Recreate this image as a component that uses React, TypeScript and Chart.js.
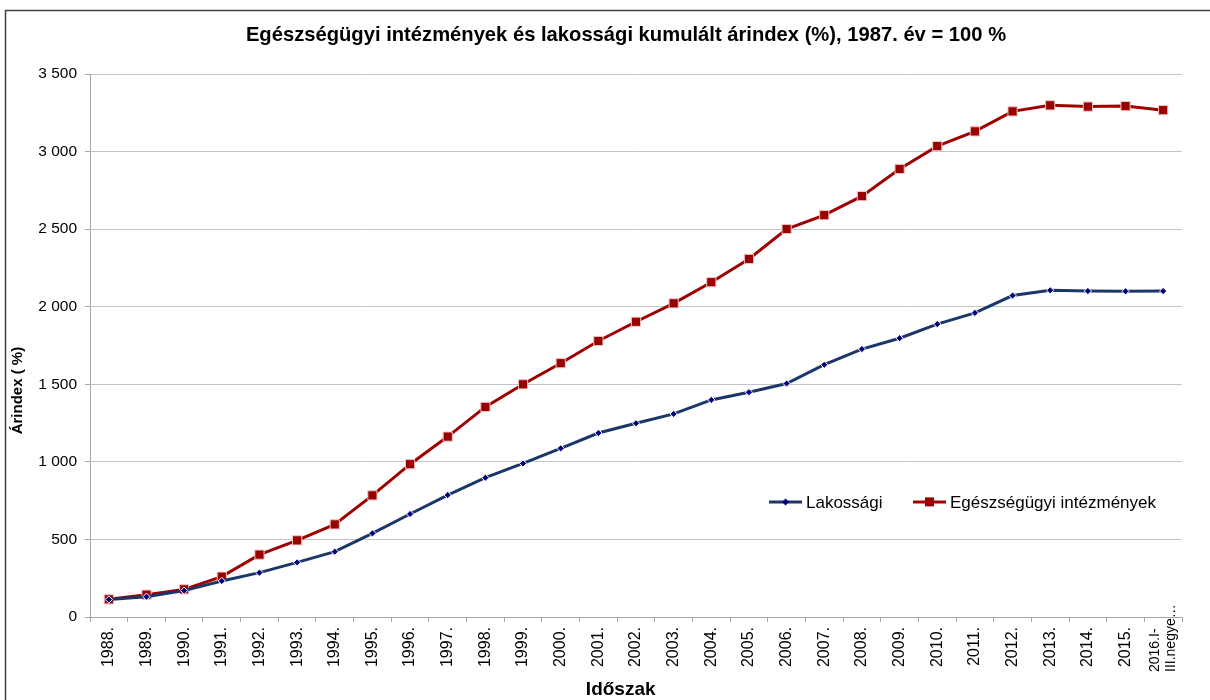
import React, { useEffect, useRef } from "react";
import { Chart, registerables } from "chart.js";

Chart.register(...registerables);

const chartTitle = "Egészségügyi intézmények és lakossági kumulált árindex (%), 1987. év = 100 %";
const xTitle = "Időszak";
const yTitle = "Árindex ( %)";

const categories: (string | string[])[] = [
  "1988.", "1989.", "1990.", "1991.", "1992.", "1993.", "1994.", "1995.", "1996.", "1997.",
  "1998.", "1999.", "2000.", "2001.", "2002.", "2003.", "2004.", "2005.", "2006.", "2007.",
  "2008.", "2009.", "2010.", "2011.", "2012.", "2013.", "2014.", "2015.", ["2016.I-", "III.negye…"],
];

const lakossagiName = "Lakossági";
const lakossagi = [
  113, 131, 170, 232, 286, 352, 421, 539, 664, 786,
  898, 990, 1087, 1186, 1249, 1309, 1399, 1449, 1505, 1626,
  1727, 1797, 1888, 1960, 2072, 2106, 2101, 2099, 2101,
];

const egeszsegName = "Egészségügyi intézmények";
const egeszseg = [
  114, 144, 178, 260, 402, 494, 597, 784, 985, 1163,
  1354, 1500, 1636, 1779, 1903, 2022, 2158, 2308, 2501, 2590,
  2713, 2888, 3035, 3130, 3259, 3298, 3290, 3293, 3267,
];

const yMin = 0;
const yMax = 3500;
const yStep = 500;

const FONT = "'Liberation Sans', Arial, sans-serif";
const BLUE_LINE = "#1B3668";
const BLUE_MARK = "#000080";
const RED_LINE = "#A00000";
const RED_MARK = "#990000";

const LAST = categories.length - 1;

const formatTick = (v: number) =>
  String(Math.round(v)).replace(/\B(?=(\d{3})+(?!\d))/g, " ");

const framePlugin = {
  id: "frame",
  beforeDraw(chart: any) {
    const ctx = chart.ctx;
    ctx.save();
    ctx.fillStyle = "#ffffff";
    ctx.fillRect(0, 0, chart.width, chart.height);
    ctx.strokeStyle = "#404040";
    ctx.lineWidth = 1.5;
    ctx.beginPath();
    ctx.moveTo(5.5, chart.height);
    ctx.lineTo(5.5, 10.5);
    ctx.lineTo(chart.width, 10.5);
    ctx.stroke();
    ctx.restore();
  },
};

const titlesPlugin = {
  id: "titles",
  afterDraw(chart: any) {
    const ctx = chart.ctx;
    const area = chart.chartArea;
    ctx.save();
    ctx.fillStyle = "#000000";
    ctx.textAlign = "center";
    ctx.textBaseline = "middle";
    ctx.font = `bold 20.2px ${FONT}`;
    ctx.fillText(chartTitle, 626, 35);
    ctx.font = `bold 19px ${FONT}`;
    ctx.fillText(xTitle, area.left + (area.right - area.left) * 0.486, 690);
    ctx.save();
    ctx.translate(18, area.top + (area.bottom - area.top) * 0.583);
    ctx.rotate(-Math.PI / 2);
    ctx.font = `bold 15px ${FONT}`;
    ctx.fillText(yTitle, 0, 0);
    ctx.restore();

    // last (two-line) category label
    const xs = chart.scales.x;
    const px = xs.getPixelForValue(LAST);
    const lines = categories[LAST] as string[];
    const base = area.bottom + 55;
    ctx.font = `14px ${FONT}`;
    ctx.textAlign = "left";
    lines.forEach((ln, i) => {
      ctx.save();
      ctx.translate(px - 8 + i * 16, base);
      ctx.rotate(-Math.PI / 2);
      ctx.fillText(ln, 0, 0);
      ctx.restore();
    });
    ctx.restore();
  },
};

const legendPlugin = {
  id: "innerLegend",
  afterDatasetsDraw(chart: any) {
    const ctx = chart.ctx;
    const area = chart.chartArea;
    const y = area.top + (area.bottom - area.top) * 0.788;
    const items = [
      { x: 769, color: BLUE_LINE, mark: BLUE_MARK, style: "diamond", text: chart.data.datasets[0].label },
      { x: 913, color: RED_LINE, mark: RED_MARK, style: "square", text: chart.data.datasets[1].label },
    ];
    ctx.save();
    ctx.font = `17px ${FONT}`;
    ctx.textBaseline = "middle";
    ctx.textAlign = "left";
    for (const it of items) {
      ctx.strokeStyle = it.color;
      ctx.lineWidth = 3;
      ctx.beginPath();
      ctx.moveTo(it.x, y);
      ctx.lineTo(it.x + 33, y);
      ctx.stroke();
      const cx = it.x + 16.5;
      ctx.fillStyle = it.mark;
      if (it.style === "diamond") {
        ctx.beginPath();
        ctx.moveTo(cx, y - 3.5);
        ctx.lineTo(cx + 3.5, y);
        ctx.lineTo(cx, y + 3.5);
        ctx.lineTo(cx - 3.5, y);
        ctx.closePath();
        ctx.fill();
      } else {
        ctx.fillRect(cx - 4.5, y - 4.5, 9, 9);
      }
      ctx.fillStyle = "#000000";
      ctx.fillText(it.text, it.x + 37, y + 1);
    }
    ctx.restore();
  },
};

export default function App() {
  const ref = useRef<HTMLCanvasElement | null>(null);

  useEffect(() => {
    if (!ref.current) return;
    const chart = new Chart(ref.current, {
      type: "line",
      data: {
        labels: categories,
        datasets: [
          {
            label: lakossagiName,
            data: lakossagi,
            borderColor: BLUE_LINE,
            backgroundColor: BLUE_MARK,
            borderWidth: 3,
            pointStyle: "rectRot",
            pointRadius: 3.6,
            pointBorderColor: "#ffffff",
            pointBorderWidth: 1,
            pointBackgroundColor: BLUE_MARK,
            tension: 0,
          },
          {
            label: egeszsegName,
            data: egeszseg,
            borderColor: RED_LINE,
            backgroundColor: RED_MARK,
            borderWidth: 3,
            pointStyle: "rect",
            pointRadius: 6.5,
            pointBorderColor: "#f2c4c4",
            pointBorderWidth: 1,
            pointBackgroundColor: RED_MARK,
            tension: 0,
          },
        ],
      },
      options: {
        responsive: false,
        animation: false,
        layout: { padding: { left: 7, right: 28, top: 74, bottom: 0 } },
        plugins: {
          legend: { display: false },
          tooltip: { enabled: false },
          title: { display: false },
        },
        scales: {
          x: {
            type: "category",
            offset: true,
            afterFit: (s: any) => {
              s.height = 83;
            },
            grid: {
              offset: true,
              drawOnChartArea: false,
              drawTicks: true,
              tickLength: 5,
              color: "#a6a6a6",
            },
            border: { color: "#a6a6a6", width: 1 },
            ticks: {
              autoSkip: false,
              minRotation: 90,
              maxRotation: 90,
              padding: 5,
              color: "#000000",
              font: { family: FONT, size: 16 },
              callback: (_v: any, i: number) => (i === LAST ? "" : categories[i]),
            },
          },
          y: {
            min: yMin,
            max: yMax,
            afterFit: (s: any) => {
              s.width = 83;
            },
            grid: {
              color: "#c4c4c4",
              tickLength: 5,
              tickColor: "#a6a6a6",
            },
            border: { color: "#a6a6a6", width: 1 },
            ticks: {
              stepSize: yStep,
              padding: 8,
              color: "#000000",
              font: { family: FONT, size: 15.5 },
              callback: (v: any) => formatTick(Number(v)),
            },
          },
        },
      },
      plugins: [framePlugin, legendPlugin, titlesPlugin],
    });
    return () => chart.destroy();
  }, []);

  return (
    <div style={{ position: "fixed", left: 0, top: 0, width: 1210, height: 700 }}>
      <canvas ref={ref} width={1210} height={700} style={{ display: "block" }} />
    </div>
  );
}
